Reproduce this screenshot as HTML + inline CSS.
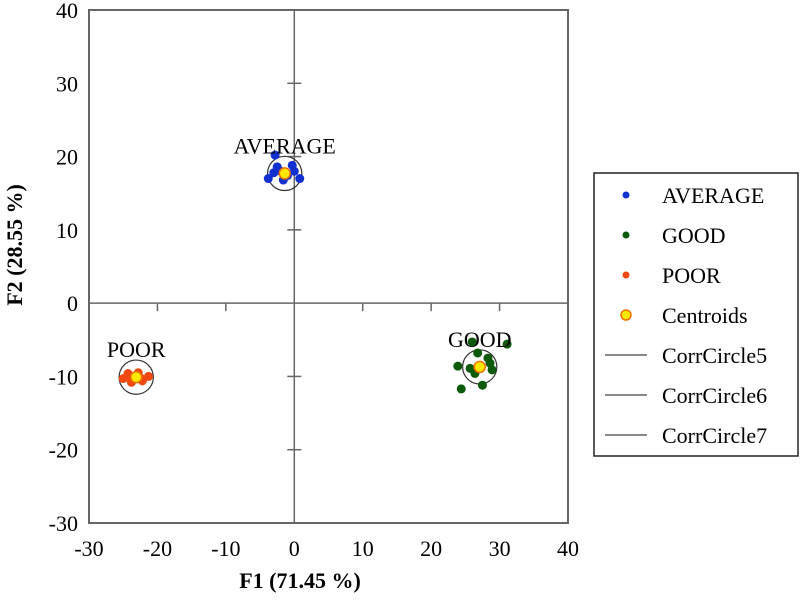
<!DOCTYPE html>
<html><head><meta charset="utf-8"><style>
body{margin:0;background:#fff;}
svg text{font-family:"Liberation Serif",serif;fill:#000;}
</style></head><body>
<svg width="800" height="600" xmlns="http://www.w3.org/2000/svg" id="svg">
<rect x="0" y="0" width="800" height="600" fill="#fff"/>
</svg>
<script>
const xTicks=[-30,-20,-10,0,10,20,30,40];
const yTicks=[-30,-20,-10,0,10,20,30,40];
const averageX=[-2.8,-3.8,0.8,-1.6,-0.3,-2.5,-1.0,-2.0,-3.0,0.0];
const averageY=[20.2,17.0,17.0,16.8,18.8,18.6,17.4,18.0,17.8,18.0];
const goodX=[26.0,31.1,26.8,28.3,23.9,25.7,28.9,26.4,27.5,24.4,28.6];
const goodY=[-5.3,-5.6,-6.8,-7.5,-8.6,-8.9,-9.1,-9.6,-11.2,-11.7,-8.2];
const poorX=[-25.0,-24.3,-23.8,-22.8,-22.2,-21.3,-24.0,-22.5];
const poorY=[-10.3,-9.6,-10.8,-9.5,-10.6,-10.0,-10.2,-10.2];
const centroidX=[-1.4,27.1,-23.1];
const centroidY=[17.7,-8.7,-10.1];
const groupLabels=["AVERAGE","GOOD","POOR"];
const circleR=2.5;
const L=89,R=568,T=10,B=523;
const sx=v=>L+(v+30)/70*(R-L);
const sy=v=>T+(40-v)/70*(B-T);
const NS="http://www.w3.org/2000/svg";
const svg=document.getElementById('svg');
function mk(tag,attrs,parent){const e=document.createElementNS(NS,tag);for(const k in attrs)e.setAttribute(k,attrs[k]);(parent||svg).appendChild(e);return e;}
let e;
e=mk('rect',{x:L,y:T,width:R-L,height:B-T,fill:'none',stroke:'#666','stroke-width':2});


e=mk('line',{x1:sx(0),x2:sx(0),y1:T,y2:B,stroke:'#666','stroke-width':1.5});


e=mk('line',{x1:L,x2:R,y1:sy(0),y2:sy(0),stroke:'#666','stroke-width':1.5});


xTicks.forEach(v=>{
 if(v>-30&&v<40&&v!==0){e=mk('line',{x1:sx(v),x2:sx(v),y1:sy(0),y2:sy(0)+8,stroke:'#666','stroke-width':1.5});
 
 }
 e=mk('text',{x:sx(v),y:556,'font-size':22,'text-anchor':'middle'});e.textContent=v;
 
 
});
yTicks.forEach(v=>{
 if(v>-30&&v<40&&v!==0){e=mk('line',{x1:sx(0)-7,x2:sx(0)+7,y1:sy(v),y2:sy(v),stroke:'#666','stroke-width':1.5});
 
 }
 e=mk('text',{x:78,y:sy(v)+8,'font-size':22,'text-anchor':'end'});e.textContent=v;
 
 
});
e=mk('text',{x:300,y:588,'font-size':22,'font-weight':'bold','text-anchor':'middle'});e.textContent='F1 (71.45 %)';


e=mk('text',{x:0,y:0,'font-size':22,'font-weight':'bold','text-anchor':'middle',transform:'translate(22,245) rotate(-90)'});e.textContent='F2 (28.55 %)';


const rpx=circleR/70*(R-L);
centroidX.forEach((cx,i)=>{
 e=mk('circle',{cx:sx(cx),cy:sy(centroidY[i]),r:rpx,fill:'none',stroke:'#333','stroke-width':1.2});
 
 
});
function pts(xs,ys,col,name){xs.forEach((x,i)=>{e=mk('circle',{cx:sx(x),cy:sy(ys[i]),r:4.5,fill:col});
 
 });}
pts(averageX,averageY,'#1030d0','average-point');
pts(goodX,goodY,'#0a5a0a','good-point');
pts(poorX,poorY,'#f04810','poor-point');
centroidX.forEach((cx,i)=>{
 e=mk('circle',{cx:sx(cx),cy:sy(centroidY[i]),r:5.5,fill:'#ffe800',stroke:'#f07000','stroke-width':1.5});
 
 
});
centroidX.forEach((cx,i)=>{
 const ly=sy(centroidY[i])-20;
 e=mk('text',{x:sx(cx),y:ly,'font-size':22,'text-anchor':'middle'});e.textContent=groupLabels[i];
 
 
});
const lg=mk('g',{});


e=mk('rect',{x:594,y:173,width:204,height:283,fill:'#fff',stroke:'#222','stroke-width':1.5},lg);


const items=[['AVERAGE','dot','#1030d0'],['GOOD','dot','#0a5a0a'],['POOR','dot','#f04810'],['Centroids','cent',''],['CorrCircle5','line',''],['CorrCircle6','line',''],['CorrCircle7','line','']];
items.forEach((it,i)=>{
 const y=195+i*40;
 const g=mk('g',{},lg);
 
 
 if(it[1]==='dot')mk('circle',{cx:626,cy:y,r:3.5,fill:it[2]},g);
 else if(it[1]==='cent')mk('circle',{cx:626,cy:y,r:5,fill:'#ffe800',stroke:'#f07000','stroke-width':1.5},g);
 else mk('line',{x1:605,x2:647,y1:y,y2:y,stroke:'#444','stroke-width':1.2},g);
 const t=mk('text',{x:662,y:y+8,'font-size':22},g);t.textContent=it[0];
});
</script>
</body></html>
